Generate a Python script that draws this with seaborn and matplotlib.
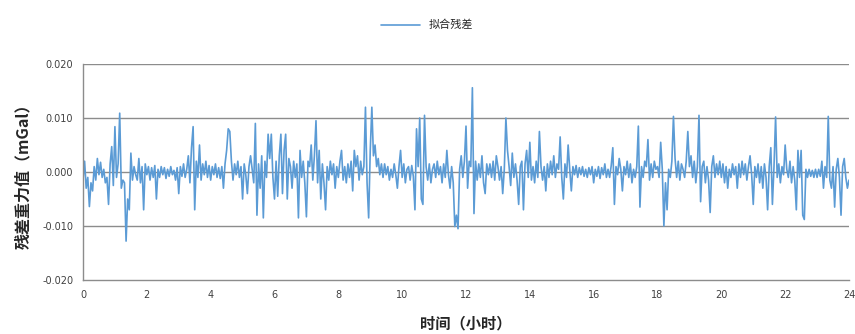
import numpy as np
import pandas as pd
import matplotlib
matplotlib.use("Agg")
import matplotlib.pyplot as plt
import seaborn as sns
from matplotlib.lines import Line2D

# residual values in units of 0.001 mGal, one row per hour, 0.05 h step
hour_rows = [
    [-1.5, 2.0, -3.0, -1.0, -6.4, -2.0, -3.5, 1.0, -1.5, 2.5, -0.5, 1.8, -1.0, 0.5, -2.0, -1.0, -6.0, 1.5, 4.7, -2.5],
    [8.4, -1.0, 1.5, 10.9, -3.0, -1.5, -2.0, -12.8, -5.0, -7.0, 3.5, -1.5, 1.0, -0.5, -1.5, 2.5, -2.0, 1.0, -7.0, 1.5],
    [-0.5, 1.0, -1.5, 0.8, -1.0, 1.2, -5.0, 0.5, -1.0, 1.0, -0.5, 0.8, -1.2, 0.5, -0.8, 1.0, -0.5, 0.3, -1.5, 0.8],
    [-4.0, 1.0, -0.8, 1.5, -1.0, 0.5, 3.0, -2.0, 4.5, 8.4, -7.0, 2.0, -1.0, 5.0, -1.5, 1.5, -0.5, 2.0, -1.0, 1.2],
    [-1.5, 1.0, -0.5, 1.5, -1.0, 0.8, -1.2, 1.0, -3.0, 1.5, 4.0, 8.0, 7.5, 2.0, -1.5, 1.5, -0.5, 2.0, -1.0, 1.0],
    [-5.0, 1.5, -0.5, -4.0, 1.0, 3.0, 0.5, -2.0, 9.0, -8.0, 1.5, -3.0, 3.0, -8.5, 2.0, -1.0, 7.0, 2.5, 7.0, -1.0],
    [-5.0, 2.0, -4.5, 3.0, 7.0, -4.0, 4.0, 7.0, -5.0, 2.5, 1.0, -3.0, 2.0, -1.0, 1.5, -8.5, 4.0, -1.0, 2.0, -2.0],
    [-8.3, 2.0, 1.0, 5.0, -1.5, 3.0, 9.5, -2.0, 4.0, -5.0, 1.5, -2.0, -7.0, 1.0, -1.5, 2.0, -0.5, 1.5, -3.0, 1.0],
    [-1.0, 2.0, 4.0, -1.5, 1.0, -2.0, 1.5, -1.0, 2.0, -3.5, 4.0, 1.0, 3.0, -1.5, 2.0, -0.5, 1.0, 12.0, -2.0, -8.5],
    [4.0, 12.0, 3.0, 5.0, 1.0, 2.5, -0.5, 1.5, -1.0, 1.5, -0.5, 1.0, -1.5, 0.5, -1.0, 1.5, -0.5, -3.0, 1.0, 4.0],
    [-1.0, 1.5, -2.0, 0.5, 1.0, -1.5, 1.2, -0.8, -7.0, 8.0, 1.0, 10.0, -5.0, -6.0, 10.5, 1.0, -1.5, 1.5, -2.0, 0.5],
    [1.5, -1.0, 2.0, -0.5, 1.0, -2.0, 1.5, -1.0, 4.0, -0.5, -3.0, 1.0, -2.0, -10.1, -8.0, -10.5, 0.5, 3.0, -1.0, 2.0],
    [8.5, -3.0, 2.0, 1.0, 15.6, -7.7, 2.0, -1.5, 1.5, -1.0, 3.0, -2.0, -4.0, 1.5, -0.5, 1.5, -1.0, 2.0, -1.5, 3.0],
    [1.0, -1.5, 1.0, -4.0, 0.5, 10.0, 4.0, 1.0, -2.5, 3.5, -1.0, 1.5, -1.5, -6.0, 1.0, 2.0, -7.0, 1.5, 4.0, -1.0],
    [5.5, -1.5, 1.0, -2.0, 2.0, -1.0, 7.5, 1.0, -1.5, 1.0, -3.5, 1.5, -1.0, 2.0, -0.5, 3.0, -1.0, 1.5, 0.5, 6.5],
    [-1.0, -5.0, 1.5, -1.0, 5.0, 0.5, -3.5, 1.0, -0.5, 1.2, -1.0, 0.8, -0.5, 1.0, -0.8, 0.5, -1.0, 0.8, -0.5, 1.0],
    [-2.0, 0.5, -0.8, 1.0, -1.2, 0.8, -0.5, 1.5, -1.0, 0.5, -1.0, 1.2, 4.5, -6.0, 1.0, -0.5, 2.5, 0.5, -3.5, 1.0],
    [-0.5, 2.0, -1.0, 1.5, -2.0, 0.5, -1.0, 1.0, 8.5, -6.5, 1.0, -1.0, 2.0, 1.0, 6.0, -1.5, 1.5, -1.0, 2.0, 0.5],
    [1.0, -1.0, 5.5, 0.5, -10.0, -2.0, -7.0, 0.5, -1.0, 2.0, 10.3, 2.5, -1.0, 2.0, -1.5, 1.5, 0.5, -1.0, 2.0, 7.5],
    [1.0, 3.0, -1.0, 2.0, -2.0, 1.0, 10.5, -5.5, 1.0, 2.0, -2.0, 1.0, -1.5, -7.5, 1.0, 3.0, -1.0, 1.5, -0.5, 2.0],
    [-1.0, 1.5, -2.0, 1.0, -3.0, 0.5, -1.0, 1.5, -0.5, 1.0, -3.0, 1.5, -1.0, 2.0, -0.5, 1.5, -1.5, 1.0, 3.0, -0.5],
    [-6.0, 1.0, -1.0, 1.5, -2.0, 1.0, -3.0, 1.5, -1.0, -7.0, 1.0, 4.5, -6.0, 1.0, 10.2, -1.0, 1.5, -2.0, 1.0, -0.5],
    [5.0, 0.5, -1.0, 2.0, -2.0, 1.0, -1.5, -7.0, 4.0, -1.0, 4.0, -8.0, -8.8, 0.5, -1.0, 0.5, -0.8, 0.3, -1.0, 0.5],
    [-1.0, 0.5, -0.8, 2.0, -3.0, 1.0, -1.0, 10.3, -1.5, -3.0, 1.0, -6.5, 0.5, 2.5, -1.0, -8.0, 1.0, 2.5, -1.0, -3.0],
]
last_value = [-1.5]

x_ticks = [0, 2, 4, 6, 8, 10, 12, 14, 16, 18, 20, 22, 24]
y_ticks = [-0.020, -0.010, 0.000, 0.010, 0.020]
series_name = "拟合残差"
x_label = "时间（小时）"
y_label = "残差重力值（mGal）"

values = np.array([v for row in hour_rows for v in row] + last_value) * 1e-3
hours = np.arange(len(values)) * 0.05
df = pd.DataFrame({"时间": hours, "残差": values, "series": series_name})

sns.set_style("white")
plt.rcParams['font.family'] = ['Noto Sans CJK SC', 'DejaVu Sans']

fig = plt.figure(figsize=(8.55, 3.34), dpi=100)
ax = fig.add_axes([83/855, 1-280/334, (849-83)/855, (280-64)/334])

sns.lineplot(data=df, x="时间", y="残差", hue="series", palette=["#5b9bd5"],
             linewidth=1.2, ax=ax, legend=False, estimator=None, sort=False)

ax.set_xlim(0, 24)
ax.set_ylim(-0.020, 0.020)
ax.set_xticks(x_ticks)
ax.set_yticks(y_ticks)
ax.set_yticklabels([f"{t:.3f}" for t in y_ticks])
for t in y_ticks[1:]:
    ax.axhline(t, color="#8c8c8c", linewidth=1.0, zorder=0)

ax.spines['top'].set_visible(False)
ax.spines['right'].set_visible(False)
for s in ['left', 'bottom']:
    ax.spines[s].set_color("#8c8c8c")
    ax.spines[s].set_linewidth(1.0)
ax.tick_params(axis='both', which='major', direction='out', length=4, width=1,
               color="#8c8c8c", labelsize=7, labelcolor="#404040", pad=3)
for lab in ax.get_xticklabels() + ax.get_yticklabels():
    lab.set_family(['DejaVu Sans'])

ax.set_xlabel(x_label, fontsize=11, fontweight='bold', labelpad=11)
ax.set_ylabel(y_label, fontsize=11.5, fontweight='bold', labelpad=8)

handle = Line2D([0], [0], color="#5b9bd5", linewidth=1.2)
fig.legend([handle], [series_name], loc='upper center', bbox_to_anchor=(0.5, 0.97),
           frameon=False, fontsize=8, handlelength=3.5)

fig.savefig("out.png", dpi=100)
